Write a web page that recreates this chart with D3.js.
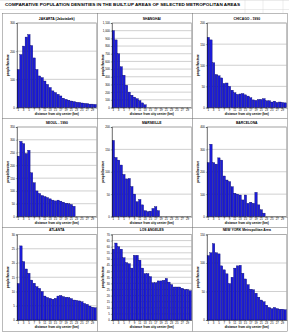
<!DOCTYPE html>
<html><head><meta charset="utf-8">
<script src="https://cdn.jsdelivr.net/npm/d3@7"></script>
<style>html,body{margin:0;padding:0;background:#fff;}svg{display:block;}</style>
</head><body>
<svg id="c" width="289" height="332"></svg>
<script>
const mainTitle = "COMPARATIVE POPULATION DENSITIES IN THE BUILT-UP AREAS OF SELECTED METROPOLITAN AREAS";
const distances = [1,2,3,4,5,6,7,8,9,10,11,12,13,14,15,16,17,18,19,20,21,22,23,24,25,26,27,28,29,30];
const xTickLabels = [1,3,5,7,9,11,13,15,17,19,21,23,25,27,29];
const yLabel = "people/hectare";
const xLabel = "distance from city center (km)";

const cityTitles = ["JAKARTA (Jabotabek)","SHANGHAI","CHICAGO - 1990","SEOUL - 1990","MARSEILLE","BARCELONA","ATLANTA","LOS ANGELES","NEW YORK Metropolitan Area"];

const jakarta   = [135,188,218,250,259,220,176,135,112,106,94,82,71,59,53,47,41,33,29,26,23,21,19,18,16,15,14,12,12,11];
const shanghai  = [1000,880,700,530,420,290,200,160,135,115,90,60,35];
const chicago   = [166,160,106,78,75,70,57,58,50,41,35,31,32,33,30,27,23,18,17,19,19,21,16,16,13,15,12,13,12,11];
const seoul     = [236,294,285,246,259,171,132,100,90,82,78,74,69,64,61,64,60,56,52,50,47,40];
const marseille = [170,132,126,115,94,84,85,67,50,33,38,26,13,11,12,18,22,13];
const barcelona = [241,323,241,234,262,252,181,163,156,133,104,100,96,74,96,59,64,59,108,52,30,15];
const atlanta   = [12.8,26,20.5,17.9,16.4,14,12.9,11.7,11.1,10,8.4,7.9,7.6,7.3,7.6,8.4,8.6,8.2,8.0,7.9,7.5,7.0,6.9,6.7,6.4,5.8,5.5,4.9,4.5,4.3];
const losAngeles= [58,63,60,58,51,47,46,42.5,53,53,49,42.5,38,38,35.5,30.5,30.5,32,32,32.5,34,31,29,27,27,27,26,25,25,24];
const newYork   = [113,118,134,118,116,95,88,81,64,75,91,95,96,82,72,62,54,53,47,40,35,32,26,22,20,22,20,19,19,18];

const yTicksJakarta   = [0,100,200,300];
const yTicksShanghai  = [0,100,200,300,400,500,600,700,800,900,1000,1100];
const yTicksChicago   = [0,50,100,150,200];
const yTicksSeoul     = [0,50,100,150,200,250,300,350];
const yTicksMarseille = [0,50,100,150,200];
const yTicksBarcelona = [0,100,200,300,400];
const yTicksAtlanta   = [0,5,10,15,20,25,30];
const yTicksLA        = [0,5,10,15,20,25,30,35,40,45,50,55,60,65,70];
const yTicksNY        = [0,50,100,150];

const series = [jakarta,shanghai,chicago,seoul,marseille,barcelona,atlanta,losAngeles,newYork];
const yTicks = [yTicksJakarta,yTicksShanghai,yTicksChicago,yTicksSeoul,yTicksMarseille,yTicksBarcelona,yTicksAtlanta,yTicksLA,yTicksNY];

const svg = d3.select("#c");
const FONT = "Liberation Sans, Arial, sans-serif";

// spreadsheet grid hints
const g0 = svg.append("g").attr("stroke","#d8d8d8").attr("stroke-width",0.5);
g0.append("line").attr("x1",0).attr("x2",289).attr("y1",0.5).attr("y2",0.5);
g0.append("line").attr("x1",0).attr("x2",289).attr("y1",9.5).attr("y2",9.5);
[245,263,283].forEach(x=>g0.append("line").attr("x1",x).attr("x2",x).attr("y1",0).attr("y2",13));

svg.append("text").attr("x",5).attr("y",6.3).attr("font-family",FONT).attr("font-size",3.8)
  .attr("font-weight","bold").attr("textLength",235).attr("lengthAdjust","spacingAndGlyphs").text(mainTitle);

const colX = [2,97,192];
const rows = [
  {top:13, bottom:118, pTop:23, pBot:107.5, title:20},
  {top:118, bottom:227, pTop:127, pBot:216.5, title:123.8},
  {top:227, bottom:331, pTop:234.5, pBot:320, title:231.3}
];

series.forEach((vals,i)=>{
  const r = rows[Math.floor(i/3)], px = colX[i%3];
  const g = svg.append("g");
  g.append("rect").attr("x",px+0.25).attr("y",r.top+0.25).attr("width",95).attr("height",r.bottom-r.top)
    .attr("fill","#fff").attr("stroke","#777").attr("stroke-width",0.5);
  const L = px+15, R = px+94.5;
  const x = d3.scaleBand().domain(distances).range([L,R]).paddingInner(0.12).paddingOuter(0.06);
  const ticks = yTicks[i];
  const y = d3.scaleLinear().domain([0,ticks[ticks.length-1]]).range([r.pBot,r.pTop]);
  // gridlines
  g.selectAll(".gl").data(ticks).join("line").attr("x1",L).attr("x2",R)
    .attr("y1",d=>y(d)).attr("y2",d=>y(d)).attr("stroke","#888").attr("stroke-width",0.4);
  g.append("rect").attr("x",L).attr("y",r.pTop).attr("width",R-L).attr("height",r.pBot-r.pTop)
    .attr("fill","none").attr("stroke","#888").attr("stroke-width",0.5);
  // bars
  g.selectAll(".b").data(vals).join("rect")
    .attr("x",(d,j)=>x(distances[j])).attr("width",x.bandwidth())
    .attr("y",d=>y(d)).attr("height",d=>r.pBot-y(d))
    .attr("fill","#1c1cd8").attr("stroke","#000060").attr("stroke-width",0.35);
  // y axis
  const ya = d3.axisLeft(y).tickValues(ticks).tickSize(1.2).tickPadding(1).tickFormat(d3.format(","));
  const yg = g.append("g").attr("transform",`translate(${L},0)`).call(ya);
  yg.select(".domain").attr("stroke","#000").attr("stroke-width",0.4);
  yg.selectAll(".tick line").attr("stroke","#000").attr("stroke-width",0.3);
  yg.selectAll("text").attr("font-size",2.8).attr("font-family",FONT).attr("fill","#000");
  // x axis
  const xa = d3.axisBottom(x).tickValues(xTickLabels).tickSize(1).tickPadding(0.8);
  const xg = g.append("g").attr("transform",`translate(0,${r.pBot})`).call(xa);
  xg.select(".domain").attr("stroke","#000").attr("stroke-width",0.4);
  xg.selectAll(".tick line").attr("stroke","#000").attr("stroke-width",0.3);
  xg.selectAll("text").attr("font-size",2.8).attr("font-family",FONT).attr("fill","#000");
  // titles
  g.append("text").attr("x",(L+R)/2).attr("y",r.title).attr("text-anchor","middle")
    .attr("font-family",FONT).attr("font-size",3.4).attr("font-weight","bold").text(cityTitles[i]);
  g.append("text").attr("x",(L+R)/2).attr("y",r.pBot+7.8).attr("text-anchor","middle")
    .attr("font-family",FONT).attr("font-size",3.1).attr("font-weight","bold").text(xLabel);
  g.append("text").attr("transform",`translate(${px+7},${(r.pTop+r.pBot)/2}) rotate(-90)`)
    .attr("text-anchor","middle").attr("font-family",FONT).attr("font-size",3.1).attr("font-weight","bold").text(yLabel);
});
</script>
</body></html>
